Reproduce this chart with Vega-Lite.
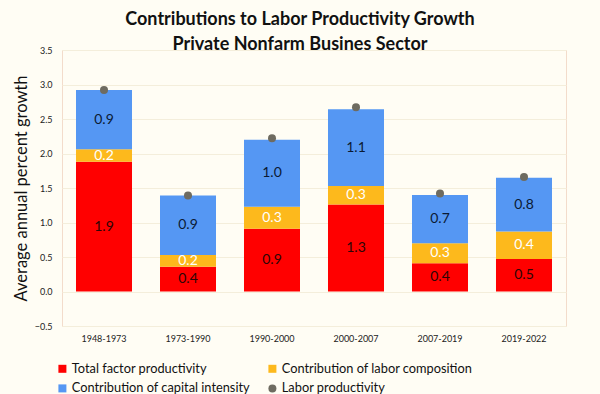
{
  "$schema": "https://vega.github.io/schema/vega-lite/v6.json",
  "width": 504,
  "height": 276,
  "autosize": "none",
  "padding": {"left": 62, "top": 50, "right": 34, "bottom": 68},
  "background": "#fffdf4",
  "title": {
    "text": ["Contributions to Labor Productivity Growth", "Private Nonfarm Busines Sector"],
    "font": "Lato",
    "fontSize": 18,
    "fontWeight": "bold",
    "color": "#111111",
    "anchor": "middle",
    "frame": "group",
    "dx": -14,
    "lineHeight": 25,
    "offset": -8
  },
  "config": {
    "font": "Lato",
    "view": {"stroke": "#f3dccb", "strokeWidth": 1},
    "axis": {"gridColor": "#f4eedb", "gridWidth": 1},
    "axisY": {
      "title": "Average annual percent growth",
      "titleFontSize": 16.5,
      "titleFontWeight": "normal",
      "titleColor": "#111111",
      "titlePadding": 5,
      "values": [-0.5, 0, 0.5, 1, 1.5, 2, 2.5, 3, 3.5],
      "format": ".1f",
      "labelOverlap": false,
      "labelFontSize": 9,
      "labelColor": "#222222",
      "labelPadding": 10,
      "ticks": false,
      "domain": false,
      "grid": true
    },
    "legend": {
      "orient": "none",
      "legendX": -6,
      "legendY": 312,
      "columns": 2,
      "columnPadding": 16,
      "rowPadding": 6,
      "labelFontSize": 12.8,
      "labelFont": "Lato",
      "labelColor": "#111111",
      "labelLimit": 300,
      "labelOffset": 3,
      "title": null
    }
  },
  "data": {
    "values": [
      {"period": "1948-1973", "component": "Total factor productivity", "value": 1.88},
      {"period": "1948-1973", "component": "Contribution of labor composition", "value": 0.18},
      {"period": "1948-1973", "component": "Contribution of capital intensity", "value": 0.86},
      {"period": "1948-1973", "component": "Labor productivity", "value": 2.92},
      {"period": "1973-1990", "component": "Total factor productivity", "value": 0.36},
      {"period": "1973-1990", "component": "Contribution of labor composition", "value": 0.17},
      {"period": "1973-1990", "component": "Contribution of capital intensity", "value": 0.86},
      {"period": "1973-1990", "component": "Labor productivity", "value": 1.39},
      {"period": "1990-2000", "component": "Total factor productivity", "value": 0.91},
      {"period": "1990-2000", "component": "Contribution of labor composition", "value": 0.32},
      {"period": "1990-2000", "component": "Contribution of capital intensity", "value": 0.97},
      {"period": "1990-2000", "component": "Labor productivity", "value": 2.22},
      {"period": "2000-2007", "component": "Total factor productivity", "value": 1.26},
      {"period": "2000-2007", "component": "Contribution of labor composition", "value": 0.27},
      {"period": "2000-2007", "component": "Contribution of capital intensity", "value": 1.11},
      {"period": "2000-2007", "component": "Labor productivity", "value": 2.67},
      {"period": "2007-2019", "component": "Total factor productivity", "value": 0.41},
      {"period": "2007-2019", "component": "Contribution of labor composition", "value": 0.29},
      {"period": "2007-2019", "component": "Contribution of capital intensity", "value": 0.70},
      {"period": "2007-2019", "component": "Labor productivity", "value": 1.42},
      {"period": "2019-2022", "component": "Total factor productivity", "value": 0.47},
      {"period": "2019-2022", "component": "Contribution of labor composition", "value": 0.40},
      {"period": "2019-2022", "component": "Contribution of capital intensity", "value": 0.78},
      {"period": "2019-2022", "component": "Labor productivity", "value": 1.66}
    ]
  },
  "encoding": {
    "x": {
      "field": "period",
      "type": "nominal",
      "sort": null,
      "scale": {"paddingInner": 0.3333, "paddingOuter": 0.1667},
      "axis": {
        "title": null,
        "labelAngle": 0,
        "labelFontSize": 9,
        "labelColor": "#222222",
        "labelPadding": 8,
        "ticks": false,
        "domain": false
      }
    }
  },
  "layer": [
    {
      "transform": [
        {"filter": "datum.component !== 'Labor productivity'"},
        {"stack": "value", "groupby": ["period"], "sort": [{"field": "component", "order": "descending"}], "as": ["v0", "v1"]}
      ],
      "mark": {"type": "bar"},
      "encoding": {
        "y": {
          "field": "v1",
          "type": "quantitative",
          "title": "Average annual percent growth",
          "scale": {"domain": [-0.5, 3.5], "nice": false, "zero": false}
        },
        "y2": {"field": "v0"},
        "color": {
          "field": "component",
          "type": "nominal",
          "scale": {
            "domain": ["Total factor productivity", "Contribution of capital intensity", "Contribution of labor composition", "Labor productivity"],
            "range": ["#ff0000", "#5597f3", "#fdb91c", "#6e6b60"]
          }
        }
      }
    },
    {
      "transform": [
        {"filter": "datum.component !== 'Labor productivity'"},
        {"stack": "value", "groupby": ["period"], "sort": [{"field": "component", "order": "descending"}], "as": ["v0", "v1"]},
        {"fold": ["v0", "v1"], "as": ["edge", "pos"]}
      ],
      "mark": {"type": "text", "fontSize": 14, "font": "Lato", "baseline": "middle"},
      "encoding": {
        "y": {"field": "pos", "type": "quantitative", "aggregate": "mean", "title": "Average annual percent growth"},
        "text": {"field": "value", "type": "quantitative", "format": ".1f"},
        "detail": {"field": "component", "type": "nominal"},
        "color": {
          "condition": [
            {"test": "datum.component === 'Contribution of labor composition'", "value": "#ffffff"},
            {"test": "datum.component === 'Total factor productivity'", "value": "#2a0606"}
          ],
          "value": "#0b1a33"
        }
      }
    },
    {
      "transform": [{"filter": "datum.component === 'Labor productivity'"}],
      "mark": {"type": "point", "filled": true, "opacity": 1},
      "encoding": {
        "y": {"field": "value", "type": "quantitative", "title": "Average annual percent growth"},
        "color": {"field": "component", "type": "nominal"},
        "shape": {
          "field": "component",
          "type": "nominal",
          "scale": {
            "domain": ["Total factor productivity", "Contribution of capital intensity", "Contribution of labor composition", "Labor productivity"],
            "range": ["square", "square", "square", "circle"]
          }
        },
        "size": {
          "field": "component",
          "type": "nominal",
          "scale": {
            "domain": ["Total factor productivity", "Contribution of capital intensity", "Contribution of labor composition", "Labor productivity"],
            "range": [64, 64, 64, 16]
          }
        }
      }
    }
  ]
}
